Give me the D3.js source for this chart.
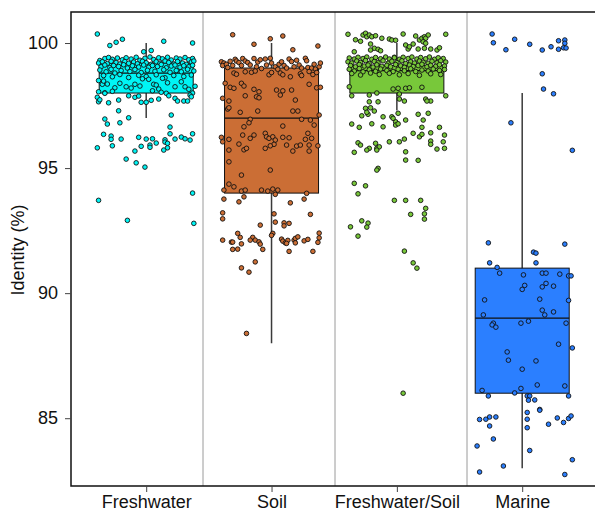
<!DOCTYPE html>
<html>
<head>
<meta charset="utf-8">
<script src="https://cdn.jsdelivr.net/npm/d3@7"></script>
<style>
  body { margin: 0; background: #fff; }
  text { font-family: "Liberation Sans", Arial, sans-serif; }
</style>
</head>
<body>
<svg></svg>
<script>
let width = 595;
let height = 512;

// categories and box statistics
let categories = ["Freshwater", "Soil", "Freshwater/Soil", "Marine"];
let whiskerLow  = [97.0, 88.0, 97.3, 83.0];
let q1          = [98.0, 94.0, 98.0, 86.0];
let medians     = [98.8, 97.0, 98.9, 89.0];
let q3          = [99.2, 99.0, 99.1, 91.0];
let whiskerHigh = [100.0, 100.0, 100.0, 98.0];
let yTicks = [85, 90, 95, 100];

// jittered points: [offset from category (category units), identity %]
let freshwaterPoints = [
  [-0.39,100.36],[-0.29,99.90],[-0.24,100.03],[-0.19,100.15],[0.14,100.07],[0.37,100.00],[-0.02,99.65],[0.04,99.70],
  [-0.37,99.30],[-0.33,99.38],[-0.30,99.42],[-0.27,99.35],[-0.23,99.40],[-0.19,99.33],[-0.16,99.41],[-0.12,99.36],[-0.08,99.43],[-0.05,99.31],[-0.01,99.39],[0.03,99.44],[0.06,99.34],[0.10,99.41],[0.13,99.37],[0.17,99.43],[0.20,99.32],[0.24,99.40],[0.27,99.36],[0.31,99.42],[0.34,99.33],[0.37,99.38],
  [-0.38,99.20],[-0.35,99.25],[-0.31,99.18],[-0.28,99.27],[-0.24,99.22],[-0.21,99.16],[-0.17,99.26],[-0.14,99.19],[-0.10,99.24],[-0.07,99.17],[-0.03,99.27],[0.00,99.21],[0.04,99.15],[0.08,99.25],[0.11,99.19],[0.15,99.28],[0.18,99.22],[0.22,99.16],[0.25,99.26],[0.29,99.20],[0.32,99.15],[0.36,99.24],[0.38,99.28],
  [-0.36,99.05],[-0.33,99.12],[-0.29,99.02],[-0.26,99.10],[-0.22,99.06],[-0.18,99.13],[-0.15,99.00],[-0.11,99.09],[-0.06,99.04],[-0.02,99.12],[0.02,99.03],[0.05,99.10],[0.09,99.06],[0.12,99.14],[0.16,99.01],[0.20,99.08],[0.23,99.12],[0.27,99.03],[0.30,99.09],[0.34,99.05],[0.37,99.11],
  [-0.37,98.92],[-0.32,98.85],[-0.28,98.95],[-0.25,98.80],[-0.20,98.90],[-0.13,98.86],[-0.09,98.94],[-0.04,98.82],[0.01,98.91],[0.07,98.87],[0.14,98.93],[0.19,98.83],[0.24,98.90],[0.28,98.85],[0.33,98.95],[0.38,98.88],
  [-0.34,98.70],[-0.27,98.65],[-0.21,98.74],[-0.14,98.62],[-0.06,98.71],[0.00,98.66],[0.08,98.73],[0.15,98.61],[0.22,98.70],[0.30,98.66],[0.36,98.72],
  [-0.35,98.35],[-0.31,98.36],[-0.25,98.21],[-0.21,98.39],[-0.16,98.25],[-0.12,98.20],[-0.09,98.35],[-0.05,98.28],[0.06,98.35],[0.08,98.32],[0.17,98.41],[0.23,98.25],[0.28,98.45],[0.31,98.25],[0.39,98.27],[-0.03,98.57],[0.02,98.55],[0.13,98.59],[-0.38,98.50],[-0.34,98.48],
  [-0.38,98.05],[-0.33,98.01],[-0.27,98.07],[0.05,98.09],[0.10,98.16],[0.34,98.15],[0.37,98.00],[0.12,98.03],[0.16,97.99],
  [-0.39,97.83],[-0.38,97.65],[-0.37,97.73],[-0.30,97.61],[-0.33,97.99],[-0.22,97.72],[-0.14,97.89],[-0.09,97.83],[-0.06,97.88],[0.00,97.63],[-0.04,97.63],[0.04,97.71],[0.10,97.76],[0.18,97.89],[0.23,97.79],[0.25,97.68],[0.30,97.68],[0.33,97.68],[0.35,97.92],[0.36,97.85],
  [-0.22,97.29],[-0.33,96.96],[-0.31,96.76],[-0.21,96.81],[-0.14,97.01],[0.20,97.12],[0.19,96.64],[-0.34,96.35],[-0.28,96.28],[-0.28,96.15],[-0.20,96.16],[-0.39,95.81],[-0.27,95.89],
  [-0.06,96.23],[0.00,96.16],[0.05,96.17],[-0.04,95.87],[0.03,95.92],[0.03,95.83],[0.08,96.00],[-0.09,95.68],[0.15,96.13],[0.15,96.04],[0.17,95.99],[0.17,95.81],[0.14,95.72],
  [0.19,96.37],[0.23,96.16],[0.28,96.24],[0.31,96.17],[0.35,96.12],[0.37,96.37],[-0.16,95.36],[-0.08,95.21],[-0.01,95.04],
  [-0.38,93.71],[0.37,94.00],[-0.15,92.91],[0.38,92.79]
];

let soilPoints = [
  [-0.31,100.33],[-0.01,100.17],[0.09,100.28],[-0.14,99.95],[0.17,99.73],[0.37,99.88],
  [-0.40,99.25],[-0.38,99.20],[-0.39,99.10],[-0.36,99.15],[-0.33,99.27],[-0.29,99.35],[-0.28,99.28],[-0.26,99.22],[-0.23,99.38],[-0.21,99.28],[-0.19,99.22],[-0.14,99.38],[-0.11,99.24],[-0.09,99.33],[-0.05,99.36],[-0.04,99.12],[-0.01,99.39],[0.03,99.05],[0.06,99.15],[0.08,99.25],[0.10,99.10],[0.14,99.36],[0.16,99.26],[0.20,99.31],[0.22,99.12],[0.27,99.39],[0.28,99.29],[0.29,99.02],[0.32,99.00],[0.35,98.96],[0.38,99.05],[0.39,99.20],
  [-0.31,99.10],[-0.24,99.10],[-0.17,99.12],[-0.12,99.05],[0.00,99.20],[0.12,99.00],[0.18,99.05],[0.24,99.00],[0.34,99.15],[-0.35,99.02],[-0.08,98.98],[0.05,98.95],
  [-0.30,98.80],[-0.28,98.75],[-0.21,98.85],[-0.16,98.83],[-0.13,98.88],[-0.02,98.73],[0.00,98.82],[0.07,98.80],[0.09,98.73],[0.15,98.65],[0.23,98.77],[0.24,98.70],[0.30,98.86],[0.33,98.74],[0.36,98.82],
  [-0.37,98.39],[-0.33,98.23],[-0.30,98.19],[-0.24,98.39],[-0.22,98.28],[-0.14,98.15],[-0.10,98.05],[0.04,98.12],[0.07,97.92],[0.09,98.09],[0.16,98.12],[0.30,98.35],[0.36,98.21],[0.39,98.23],
  [-0.21,97.89],[-0.12,97.85],[-0.10,97.81],[-0.39,97.79],[-0.34,97.68],[-0.35,97.36],[-0.34,97.41],[-0.25,97.23],[-0.11,97.28],[0.19,97.72],[0.17,97.28],[0.21,97.28],[0.24,96.95],[0.31,96.92],[0.38,97.12],[-0.17,96.95],[-0.18,96.81],
  [-0.22,96.65],[-0.34,96.15],[-0.40,96.23],[-0.39,96.05],[-0.26,95.96],[-0.17,96.19],[-0.14,96.32],[-0.23,96.32],[-0.05,96.39],[-0.04,96.25],[-0.02,96.19],[0.01,96.25],[0.03,96.12],[0.09,96.68],[0.09,96.23],[0.14,96.21],[0.29,96.39],[0.27,96.15],[0.32,96.19],[0.34,96.72],
  [0.02,95.95],[-0.01,95.89],[0.12,95.92],[0.20,95.88],[0.23,95.92],[0.30,95.92],[0.37,95.89],[-0.34,95.72],[-0.22,95.73],[-0.20,95.79],[-0.05,95.79],[0.17,95.68],[0.30,95.68],
  [-0.34,95.25],[-0.01,94.92],[-0.24,94.72],[-0.34,94.36],
  [-0.30,94.25],[-0.38,94.12],[-0.24,94.08],[-0.21,94.12],[-0.08,94.12],[-0.03,94.08],[0.01,94.16],[0.05,94.12],[0.03,93.95],[-0.22,93.85],[0.28,93.99],[0.26,93.76],[0.15,93.61],[-0.38,93.76],[-0.26,93.65],
  [-0.39,93.21],[-0.39,92.97],[0.31,93.15],[0.02,93.17],[0.03,92.84],[-0.09,92.72],[0.10,92.81],[0.14,92.79],[0.10,92.69],
  [-0.27,92.39],[-0.25,92.23],[-0.39,92.12],[-0.32,92.04],[-0.31,92.04],[-0.24,91.97],[-0.15,92.23],[-0.17,92.12],[-0.13,92.12],[-0.10,92.05],[-0.09,91.96],[-0.07,91.75],[-0.31,91.75],[-0.27,91.76],
  [0.01,92.39],[0.00,92.31],[0.08,92.16],[0.09,92.08],[0.11,92.01],[0.13,92.11],[0.12,91.99],[0.18,92.12],[0.19,92.19],[0.21,92.25],[0.19,92.01],[0.26,92.09],[0.29,92.15],[0.38,92.40],[0.38,92.21],[0.37,92.03],
  [0.14,91.67],[0.33,91.67],[-0.13,91.25],[-0.24,91.01],[-0.18,90.84],[-0.20,88.39]
];

let mixedPoints = [
  [-0.39,100.35],[-0.33,100.13],[-0.29,100.07],[-0.27,100.32],[-0.25,100.39],[-0.24,100.25],[-0.22,100.32],[-0.20,100.25],[-0.17,100.29],[-0.12,100.19],[-0.06,100.16],[-0.04,100.12],[-0.01,100.11],[0.05,100.36],[0.13,99.96],[0.15,100.28],[0.18,100.12],[0.20,100.19],[0.22,100.25],[0.23,100.19],[0.25,100.32],[0.21,100.05],[0.23,99.99],[0.39,100.35],
  [-0.21,99.96],[-0.18,99.79],[-0.15,99.75],[-0.13,99.69],[-0.21,99.72],[0.07,99.92],[0.09,99.76],[0.10,99.85],[0.17,99.76],[0.22,99.79],[0.27,99.76],[0.32,99.72],[0.34,99.81],[-0.34,99.65],[-0.02,99.43],
  [-0.38,99.40],[-0.34,99.36],[-0.31,99.43],[-0.27,99.38],[-0.24,99.44],[-0.20,99.35],[-0.17,99.42],[-0.13,99.37],[-0.09,99.44],[-0.06,99.36],[-0.02,99.41],[0.02,99.35],[0.05,99.43],[0.09,99.38],[0.12,99.44],[0.16,99.36],[0.19,99.42],[0.23,99.37],[0.26,99.44],[0.30,99.35],[0.33,99.41],[0.37,99.38],
  [-0.39,99.25],[-0.36,99.20],[-0.32,99.28],[-0.29,99.22],[-0.25,99.30],[-0.22,99.18],[-0.18,99.26],[-0.15,99.21],[-0.11,99.29],[-0.07,99.19],[-0.04,99.27],[0.00,99.22],[0.04,99.29],[0.07,99.18],[0.11,99.25],[0.14,99.20],[0.18,99.28],[0.21,99.23],[0.25,99.19],[0.28,99.27],[0.32,99.21],[0.35,99.29],[0.39,99.24],
  [-0.37,99.10],[-0.33,99.05],[-0.30,99.14],[-0.26,99.08],[-0.23,99.12],[-0.19,99.04],[-0.16,99.13],[-0.12,99.07],[-0.08,99.11],[-0.05,99.05],[-0.01,99.14],[0.03,99.09],[0.06,99.03],[0.10,99.12],[0.13,99.06],[0.17,99.10],[0.20,99.15],[0.24,99.05],[0.27,99.11],[0.31,99.07],[0.34,99.13],[0.38,99.08],
  [-0.38,98.95],[-0.34,98.88],[-0.30,98.98],[-0.27,98.85],[-0.22,98.93],[-0.17,98.87],[-0.13,98.96],[-0.08,98.90],[-0.03,98.86],[0.01,98.95],[0.06,98.89],[0.11,98.97],[0.15,98.86],[0.20,98.92],[0.25,98.88],[0.29,98.96],[0.34,98.90],[0.38,98.94],
  [-0.36,98.78],[-0.29,98.72],[-0.21,98.80],[-0.14,98.74],[-0.06,98.79],[0.02,98.73],[0.09,98.78],[0.18,98.71],[0.27,98.77],[0.35,98.74],
  [-0.03,98.16],[0.01,98.19],[0.07,98.19],[0.10,98.21],[0.20,98.23],[-0.38,98.25],
  [-0.36,97.89],[-0.22,97.92],[-0.16,98.00],[0.02,97.96],[0.39,97.89],[0.02,97.76],[0.06,97.68],[-0.22,97.65],[-0.15,97.65],[0.23,97.76],[0.27,97.68],[0.24,97.68],
  [-0.25,97.39],[-0.21,97.41],[-0.28,97.09],[-0.23,97.15],[-0.24,97.23],[-0.18,97.28],[-0.11,97.05],[-0.04,97.05],[0.01,97.19],[-0.01,96.85],[-0.03,96.99],[0.17,97.15],[0.25,97.19],[0.07,96.92],[0.21,96.92],
  [-0.20,96.77],[-0.36,96.76],[-0.30,96.63],[-0.11,96.65],[-0.01,96.72],[0.01,96.77],[0.20,96.63],[0.34,96.63],[0.13,96.39],[0.18,96.25],[0.20,96.35],[0.27,96.41],[0.38,96.32],
  [0.06,96.16],[0.02,96.05],[-0.06,96.05],[-0.31,96.01],[-0.29,95.92],[-0.22,95.79],[-0.17,95.99],[-0.16,95.79],[-0.14,95.85],[-0.16,95.72],[-0.34,95.63],[-0.24,95.72],
  [0.27,96.08],[0.27,95.95],[0.37,96.05],[0.32,95.76],[0.38,95.79],[0.07,95.65],[0.07,95.32],[0.17,95.31],
  [-0.15,94.99],[-0.16,94.92],[-0.34,94.39],[-0.25,94.29],[-0.31,93.97],[-0.02,93.71],[0.07,93.71],[0.19,93.71],[0.23,93.39],[0.11,93.15],[0.22,93.17],[0.22,92.96],
  [-0.28,92.89],[-0.23,92.80],[-0.24,92.64],[-0.37,92.65],[-0.31,92.28],[0.06,91.68],[0.13,91.21],[0.16,91.00],[0.05,86.00]
];

let marinePoints = [
  [-0.24,100.36],[-0.23,100.01],[-0.06,100.15],[-0.13,99.73],[0.06,99.95],[0.16,99.72],[0.23,99.85],[0.29,100.09],[0.34,100.12],[0.34,99.99],[0.29,99.75],[0.33,99.81],[0.35,99.80],
  [0.16,98.77],[0.17,98.16],[0.25,97.97],[-0.09,96.81],[0.40,95.71],
  [-0.27,92.01],[0.34,91.96],[0.09,91.64],[0.11,91.60],[-0.26,91.21],[0.11,91.21],
  [-0.20,91.03],[-0.18,90.80],[0.01,90.73],[0.16,90.80],[0.19,90.80],[0.30,90.76],[0.37,90.69],[0.39,90.69],[0.02,90.31],[0.00,90.15],[0.19,90.39],[0.16,90.25],[0.25,90.28],
  [-0.30,89.73],[0.14,89.76],[0.37,89.71],[0.16,89.32],[0.18,89.13],[0.25,89.25],[-0.31,89.13],[-0.23,88.80],[-0.24,88.73],[-0.21,88.64],[-0.01,88.80],[0.05,88.88],[0.35,88.80],
  [0.29,87.96],[0.40,87.81],[-0.12,87.65],[-0.11,87.32],[0.11,87.29],[0.00,86.96],[0.12,86.33],[0.34,86.29],[-0.01,86.19],[-0.32,86.11],[-0.06,86.01],
  [-0.27,85.89],[0.04,85.89],[0.06,85.89],[0.05,85.72],[0.10,85.73],[0.37,85.89],[0.14,85.35],[0.14,85.32],
  [-0.34,84.95],[-0.29,84.96],[-0.26,85.05],[-0.21,85.05],[-0.26,84.69],[0.04,85.23],[0.04,84.96],[0.04,84.62],[0.21,84.76],[0.28,85.01],[0.33,84.83],[0.37,84.99],[0.39,85.09],
  [-0.23,84.17],[-0.36,83.89],[0.06,83.71],[0.40,83.34],[-0.34,82.85],[-0.15,83.09],[0.34,82.75]
];

let pointSets = [freshwaterPoints, soilPoints, mixedPoints, marinePoints];
let colors = ["#00F5F5", "#CB6E35", "#78C83A", "#2B7FFF"];

let svg = d3.select("svg")
            .attr("width", width)
            .attr("height", height);

let plotLeft = 71, plotTop = 12, plotBottom = 486, plotRight = 599;

let xScale = d3.scaleLinear()
               .domain([0.4, 4.6])
               .range([71, 597.4]);

let yScale = d3.scaleLinear()
               .domain([82.29, 101.24])
               .range([plotBottom, plotTop]);

// panel separators
let panelWidth = (plotRight - plotLeft) / 4;
svg.selectAll(".sep")
  .data([1, 2, 3])
  .enter()
  .append("line")
  .attr("x1", (d) => plotLeft + d * panelWidth)
  .attr("x2", (d) => plotLeft + d * panelWidth)
  .attr("y1", plotTop)
  .attr("y2", plotBottom)
  .attr("stroke", "#9a9a9a")
  .attr("stroke-width", 1);

// whiskers
svg.selectAll(".whisker")
  .data(categories)
  .enter()
  .append("line")
  .attr("x1", (d, i) => xScale(i + 1))
  .attr("x2", (d, i) => xScale(i + 1))
  .attr("y1", (d, i) => yScale(whiskerLow[i]))
  .attr("y2", (d, i) => yScale(whiskerHigh[i]))
  .attr("stroke", "#3a3a3a")
  .attr("stroke-width", 1.5);

// boxes
let boxHalf = 0.375;
svg.selectAll(".box")
  .data(categories)
  .enter()
  .append("rect")
  .attr("x", (d, i) => xScale(i + 1 - boxHalf))
  .attr("width", (d, i) => xScale(i + 1 + boxHalf) - xScale(i + 1 - boxHalf))
  .attr("y", (d, i) => yScale(q3[i]))
  .attr("height", (d, i) => yScale(q1[i]) - yScale(q3[i]))
  .attr("fill", (d, i) => colors[i])
  .attr("stroke", "#111")
  .attr("stroke-width", 1);

svg.selectAll(".median")
  .data(categories)
  .enter()
  .append("line")
  .attr("x1", (d, i) => xScale(i + 1 - boxHalf))
  .attr("x2", (d, i) => xScale(i + 1 + boxHalf))
  .attr("y1", (d, i) => yScale(medians[i]))
  .attr("y2", (d, i) => yScale(medians[i]))
  .attr("stroke", "#111")
  .attr("stroke-width", 1.2);

// jittered points
pointSets.forEach((pts, i) => {
  svg.append("g")
    .selectAll("circle")
    .data(pts)
    .enter()
    .append("circle")
    .attr("cx", (d) => xScale(i + 1 + d[0]))
    .attr("cy", (d) => yScale(d[1]))
    .attr("r", 2.3)
    .attr("fill", colors[i])
    .attr("stroke", "#111")
    .attr("stroke-width", 0.9);
});

// frame
svg.append("path")
   .attr("d", `M${plotRight},${plotTop}H${plotLeft}V${plotBottom}H${plotRight}`)
   .attr("fill", "none")
   .attr("stroke", "#111")
   .attr("stroke-width", 1.5);

let yAxis = svg.append("g")
   .attr("transform", "translate(" + plotLeft + ",0)")
   .call(d3.axisLeft(yScale).tickValues(yTicks).tickSize(6).tickPadding(7));

let xAxis = svg.append("g")
   .attr("transform", "translate(0," + plotBottom + ")")
   .call(d3.axisBottom(xScale).tickValues([1, 2, 3, 4])
           .tickFormat((d) => categories[d - 1]).tickSize(6).tickPadding(3));

[yAxis, xAxis].forEach((ax) => {
  ax.select(".domain").remove();
  ax.selectAll(".tick line").attr("stroke", "#444").attr("stroke-width", 1);
  ax.selectAll(".tick text")
    .attr("fill", "#111")
    .style("font-size", "18px")
    .style("font-family", "'Liberation Sans', Arial, sans-serif");
});

svg.append("text")
   .attr("transform", "translate(24,250) rotate(-90)")
   .attr("text-anchor", "middle")
   .style("font-size", "18px")
   .attr("fill", "#111")
   .text("Identity (%)");
</script>
</body>
</html>
